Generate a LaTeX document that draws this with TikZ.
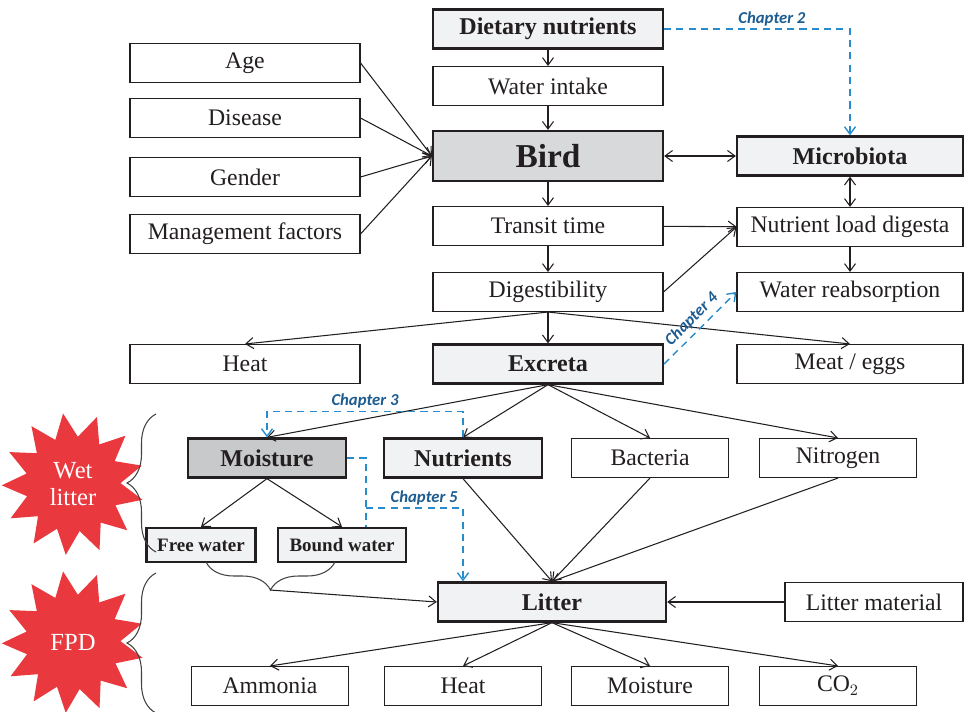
\documentclass[tikz,border=0pt]{standalone}
\usepackage{fontspec}
\setmainfont{Liberation Serif}
\newfontfamily\chapfont{Carlito}
\usetikzlibrary{arrows.meta,shapes.geometric,decorations.pathreplacing}
\definecolor{boxline}{RGB}{35,31,32}
\definecolor{lightfill}{RGB}{241,242,243}
\definecolor{birdfill}{RGB}{216,217,219}
\definecolor{moistfill}{RGB}{200,201,203}
\definecolor{chapblue}{RGB}{28,92,145}
\definecolor{dashblue}{RGB}{38,140,206}
\definecolor{starred}{RGB}{233,56,62}
\tikzset{
    % plain boxes
    box/.style={
        rectangle, draw=boxline, line width=0.6pt, fill=white,
        text=boxline, font=\fontsize{13.5}{15}\selectfont,
        minimum width=4.6cm, minimum height=0.78cm, inner sep=1pt
    },
    % key boxes (bold, shaded)
    keybox/.style={box, line width=1.3pt, fill=lightfill,
        font=\fontsize{13.7}{15}\selectfont\bfseries},
    rowbox/.style={box, minimum width=3.15cm},
    rowkeybox/.style={keybox, minimum width=3.15cm},
    waterbox/.style={keybox, minimum height=0.68cm,
        font=\fontsize{10.8}{12}\selectfont\bfseries},
    burst/.style={star, star points=13, star point ratio=1.5,
        fill=starred, draw=none, minimum size=2.85cm, inner sep=0pt,
        text=white, align=center, font=\fontsize{14}{15.7}\selectfont}
}
\tikzset{
    arr/.style={-{Straight Barb[length=1.5mm,width=2.2mm]}, line width=0.6pt, boxline},
    biarr/.style={{Straight Barb[length=1.5mm,width=2.2mm]}-{Straight Barb[length=1.5mm,width=2.2mm]},
        line width=0.6pt, boxline},
    chapline/.style={dash pattern=on 4pt off 3pt, line width=0.8pt, dashblue},
    chap/.style={chapline, -{Straight Barb[length=1.5mm,width=2.2mm]}},
    chaplab/.style={text=chapblue, inner sep=1.5pt,
        font=\chapfont\fontsize{9.5}{10}\selectfont\bfseries\itshape},
    grpbrace/.style={decorate, draw=boxline!85, line width=0.6pt}
}

\begin{document}
\begin{tikzpicture}[x=0.2mm, y=-0.2mm]
  \useasboundingbox (0,0) rectangle (966,711);

  % main column
  \node[keybox] (diet) at (548,29) {Dietary nutrients};
  \node[box] (water) at (548,86) {Water intake};
  \node[keybox, fill=birdfill, minimum height=1cm,
        font=\fontsize{19}{21}\selectfont\bfseries] (bird) at (548,156) {Bird};
  \node[box] (transit) at (548,226) {Transit time};
  \node[box] (digest) at (548,292) {Digestibility};
  \node[keybox] (excreta) at (548,364) {Excreta};

  % factors on the left
  \node[box] (age) at (245,63) {Age};
  \node[box] (disease) at (245,118) {Disease};
  \node[box] (gender) at (245,177) {Gender};
  \node[box] (mgmt) at (245,234) {Management factors};
  \node[box] (heat) at (245,364) {Heat};

  % gut side
  \node[keybox, minimum width=4.52cm] (micro) at (850,156) {Microbiota};
  \node[box, minimum width=4.52cm] (load) at (850,227) {Nutrient load digesta};
  \node[box, minimum width=4.52cm] (reab) at (850,292) {Water reabsorption};
  \node[box, minimum width=4.52cm] (meat) at (850,364) {Meat / eggs};

  % excreta components
  \node[rowkeybox, fill=moistfill] (moist) at (267,458) {Moisture};
  \node[rowkeybox] (nutri) at (463,458) {Nutrients};
  \node[rowbox] (bact) at (650,458) {Bacteria};
  \node[rowbox] (nitro) at (838,458) {Nitrogen};
  \node[waterbox, minimum width=2.18cm] (free) at (201,545) {Free water};
  \node[waterbox, minimum width=2.56cm] (bound) at (342,545) {Bound water};

  % litter
  \node[keybox, minimum width=4.56cm] (litter) at (552,602) {Litter};
  \node[box, minimum width=3.56cm] (littermat) at (874,602) {Litter material};
  \node[rowbox] (ammonia) at (270,686) {Ammonia};
  \node[rowbox] (heattwo) at (463,686) {Heat};
  \node[rowbox] (moisttwo) at (650,686) {Moisture};
  \node[rowbox] (co2) at (838,686) {CO$_2$};

  % the two bursts
  \node[burst, shape border rotate=8] (wet) at (73,484) {Wet\\litter};
  \node[burst, shape border rotate=8] (fpd) at (73,642) {FPD};
  \draw[grpbrace, decoration={brace, amplitude=5.8mm}] (156,552) -- (156,414);
  \draw[grpbrace, decoration={brace, amplitude=5.8mm}] (156,713) -- (156,573);

  % arrows
  \draw[arr] (diet) -- (water);
  \draw[arr] (water) -- (bird);
  \foreach \f in {age,disease,gender,mgmt}
    \draw[arr] (\f.east) -- (bird.west);
  \draw[biarr] (bird) -- (micro);
  \draw[biarr] (micro) -- (load);
  \draw[arr] (bird) -- (transit);
  \draw[arr] (transit) -- (load);
  \draw[arr] (transit) -- (digest);
  \draw[arr] (digest.east) -- (load.west);
  \draw[arr] (load) -- (reab);
  \foreach \t in {heat,excreta,meat}
    \draw[arr] (digest.south) -- (\t.north);
  \foreach \t in {moist,nutri,bact,nitro}
    \draw[arr] (excreta.south) -- (\t.north);
  \draw[arr] (moist.south) -- (free.north);
  \draw[arr] (moist.south) -- (bound.north);
  \foreach \s in {nutri,bact,nitro}
    \draw[arr] (\s.south) -- (litter.north);
  \draw[arr] (littermat) -- (litter);
  \foreach \t in {ammonia,heattwo,moisttwo,co2}
    \draw[arr] (litter.south) -- (\t.north);

  % free + bound water into litter
  \draw[grpbrace, decoration={brace, mirror, amplitude=5.6mm}] (206,562) -- (335,562);
  \coordinate (waterjoin) at (270,590);
  \draw[arr] (waterjoin) -- (litter.west);

  % chapters
  \draw[chap] (diet.east) -| (micro.north)
    node[chaplab, pos=0.29, above] {Chapter 2};
  \draw[chap] (nutri.north) -- ++(0,-26) -| (moist.north)
    node[chaplab, pos=0.25, above] {Chapter 3};
  \draw[chap] (excreta.east) -- (reab.west)
    node[chaplab, midway, above=1pt, sloped] {Chapter 4};
  \coordinate (chfive) at (366,508);
  \draw[chapline] (moist.east) -| (chfive) -- (chfive |- bound.north);
  \draw[chap] (chfive) -| (nutri.south |- litter.north)
    node[chaplab, pos=0.3, above] {Chapter 5};
\end{tikzpicture}
\end{document}
